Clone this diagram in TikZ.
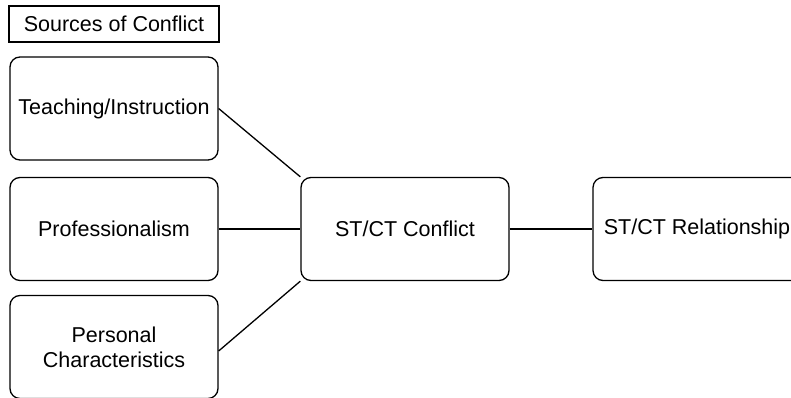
\documentclass[tikz,border=0pt]{standalone}
\usepackage{fontspec}
\setmainfont{Liberation Sans}
\begin{document}
\begin{tikzpicture}[x=1pt,y=-1pt,
  box/.style={draw=black, line width=1.3pt, rounded corners=10pt, minimum width=208pt, minimum height=103pt, align=center, font=\fontsize{21.5}{25}\selectfont, inner sep=0pt},
  titlebox/.style={draw=black, line width=2.3pt, minimum width=210pt, minimum height=36pt, font=\fontsize{21.5}{26}\selectfont, inner sep=0pt},
  link/.style={draw=black, line width=1.3pt}]
\useasboundingbox (0,0) rectangle (791,398);
\clip (0,0) rectangle (791,398);
\node[titlebox] (title) at (114,24) {Sources of Conflict};
\node[box] (teach) at (114,108.5) {Teaching/Instruction};
\node[box] (prof) at (114,229) {Professionalism};
\node[box] (pers) at (114,347) {Personal\\Characteristics};
\node[box] (conf) at (405,229) {ST/CT Conflict};
\node[box] (rel) at (697,229) {ST/CT Relationship};
\draw[link] (teach.east) -- (conf.north west);
\draw[link] (prof.east) -- (conf.west);
\draw[link] ([yshift=-4pt]pers.east) -- (conf.south west);
\draw[link] (conf.east) -- (rel.west);
\end{tikzpicture}
\end{document}
